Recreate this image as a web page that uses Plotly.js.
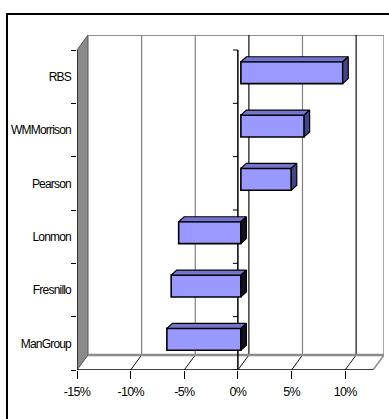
<!DOCTYPE html>
<html>
<head>
<meta charset="utf-8">
<script src="https://cdn.plot.ly/plotly-3.0.1.min.js"></script>
<style>
html,body{margin:0;padding:0;background:#fff;}
#chart{width:389px;height:419px;}
#chart .xtick text{letter-spacing:-0.7px;}
#chart .ytick text{letter-spacing:-0.8px;}
</style>
</head>
<body>
<div id="chart"></div>
<script>
// ---- data ----
const categories = ["ManGroup", "Fresnillo", "Lonmon", "Pearson", "WMMorrison", "RBS"];
const changes = [-6.9, -6.5, -5.8, 4.7, 5.9, 9.5];
const tickValues = [-15, -10, -5, 0, 5, 10];
const tickLabels = ["-15%", "-10%", "-5%", "0%", "5%", "10%"];

// ---- geometry (3D look) ----
const PXX = 10.72, PXY = 53.33;           // px per unit
const X0 = -15, XE = 12.6;                // front plane x extent
const Y0 = -0.5, Y1 = categories.length - 0.5;
const DX = 11 / PXX, DY = 15 / PXY;       // wall depth
const SX = 3 / PXX, SY = 4 / PXY;         // bar depth offset
const BDX = 5.5 / PXX, BDY = 5 / PXY;     // bar thickness
const BW = 0.41;
const F = (v, y) => [v - SX, y - SY];     // front coords -> bar axes coords

const xr = [X0, XE + DX];
const yr = [Y0, Y1 + DY];

const shapes = [];
function line(a, b, color, width) {
  const p = F(a[0], a[1]), q = F(b[0], b[1]);
  shapes.push({type: 'line', xref: 'x2', yref: 'y2', layer: 'below',
    x0: p[0], y0: p[1], x1: q[0], y1: q[1], line: {color: color, width: width}});
}
function poly(pts, fill, color) {
  const path = pts.map((pt, i) => { const p = F(pt[0], pt[1]); return (i ? 'L' : 'M') + p[0] + ',' + p[1]; }).join(' ') + ' Z';
  shapes.push({type: 'path', xref: 'x2', yref: 'y2', layer: 'below', path: path,
    fillcolor: fill, line: {color: color, width: 1}});
}
// left wall
poly([[X0, Y0], [X0 + DX, Y0 + DY], [X0 + DX, Y1 + DY], [X0, Y1]], '#8a8a8a', '#555');
// back wall edges
line([X0 + DX, Y1 + DY], [XE + DX, Y1 + DY], '#8c8c8c', 2);
line([XE + DX, Y0 + DY], [XE + DX, Y1 + DY], '#8c8c8c', 1.5);
// back gridlines and floor diagonals
tickValues.forEach(v => {
  if (v === X0) return;
  line([v + DX, Y0 + DY], [v + DX, Y1 + DY], (v === 0 || v === 10) ? '#111' : '#808080', 1.2);
  line([v + DX, Y0 + DY], [v, Y0], '#111', 1);
});
// floor edges
line([X0 + DX, Y0 + DY], [XE + DX, Y0 + DY], '#8c8c8c', 2.5);
line([XE + DX, Y0 + DY], [XE, Y0], '#8c8c8c', 1.5);
line([X0, Y0], [XE, Y0], '#000', 1.5);
// left axis line, zero axis line with ticks
line([X0, Y0], [X0, Y1], '#000', 1);
line([0, Y0], [0, Y1], '#000', 1.5);
for (let j = 0; j <= categories.length; j++) line([-5 / PXX, Y0 + j], [0, Y0 + j], '#000', 1);
// outer frame
shapes.push({type: 'rect', xref: 'paper', yref: 'paper', layer: 'below',
  x0: -70 / 307, x1: 1.2, y0: -0.3, y1: (335 + 21) / 335, line: {color: '#000', width: 2}});

// ---- 3D faces of bars ----
const idx = categories.map((c, i) => i);
const topX = [], topY = [], sidePX = [], sidePY = [], sideNX = [], sideNY = [];
changes.forEach((v, i) => {
  const a = Math.min(0, v), b = Math.max(0, v);
  const yt = idx[i] + BW / 2, yb = idx[i] - BW / 2;
  topX.push(a, b, b + BDX, a + BDX, a, null);
  topY.push(yt, yt, yt + BDY, yt + BDY, yt, null);
  const sx = v >= 0 ? sidePX : sideNX, sy = v >= 0 ? sidePY : sideNY;
  sx.push(b, b + BDX, b + BDX, b, b, null);
  sy.push(yt, yt + BDY, yb + BDY, yb, yt, null);
});

const traces = [
  {type: 'scatter', x: changes, y: categories, mode: 'markers', marker: {opacity: 0},
   hoverinfo: 'skip', showlegend: false, xaxis: 'x', yaxis: 'y'},
  {type: 'bar', orientation: 'h', x: changes, y: idx, width: BW,
   marker: {color: '#9999FF', line: {color: '#000', width: 1.6}},
   hoverinfo: 'skip', showlegend: false, xaxis: 'x2', yaxis: 'y2'},
  {type: 'scatter', x: topX, y: topY, mode: 'lines', fill: 'toself', fillcolor: '#7474cc',
   line: {color: '#000', width: 1.2}, connectgaps: false, hoverinfo: 'skip', showlegend: false, xaxis: 'x2', yaxis: 'y2'},
  {type: 'scatter', x: sidePX, y: sidePY, mode: 'lines', fill: 'toself', fillcolor: '#444488',
   line: {color: '#000', width: 1.2}, connectgaps: false, hoverinfo: 'skip', showlegend: false, xaxis: 'x2', yaxis: 'y2'},
  {type: 'scatter', x: sideNX, y: sideNY, mode: 'lines', fill: 'toself', fillcolor: '#111122',
   line: {color: '#000', width: 1.2}, connectgaps: false, hoverinfo: 'skip', showlegend: false, xaxis: 'x2', yaxis: 'y2'}
];

const font = {family: "'Liberation Sans Narrow', 'Arial Narrow', 'Liberation Sans', Arial, sans-serif", size: 12.5, color: '#000'};
const yfont = Object.assign({}, font, {size: 12});

const layout = {
  width: 389, height: 419,
  margin: {l: 77, r: 5, t: 35, b: 49, pad: 0},
  paper_bgcolor: '#fff', plot_bgcolor: 'rgba(0,0,0,0)',
  showlegend: false, hovermode: false, font: font,
  xaxis: {range: xr, showgrid: false, zeroline: false, showline: false,
    tickmode: 'array', tickvals: tickValues, ticktext: tickLabels,
    ticks: 'outside', ticklen: 8, tickwidth: 1, tickcolor: '#000', ticklabelstandoff: 2,
    tickfont: font, fixedrange: true},
  yaxis: {type: 'category', range: yr, showgrid: false, zeroline: false, showline: false,
    ticks: 'outside', tickson: 'boundaries', ticklen: 5, tickwidth: 1, tickcolor: '#000',
    ticklabelstandoff: 5, tickfont: yfont, fixedrange: true},
  xaxis2: {overlaying: 'x', anchor: 'y2', range: [xr[0] - SX, xr[1] - SX], visible: false, fixedrange: true},
  yaxis2: {overlaying: 'y', anchor: 'x2', range: [yr[0] - SY, yr[1] - SY], visible: false, fixedrange: true},
  shapes: shapes
};

Plotly.newPlot('chart', traces, layout, {displayModeBar: false, staticPlot: true});
</script>
</body>
</html>
